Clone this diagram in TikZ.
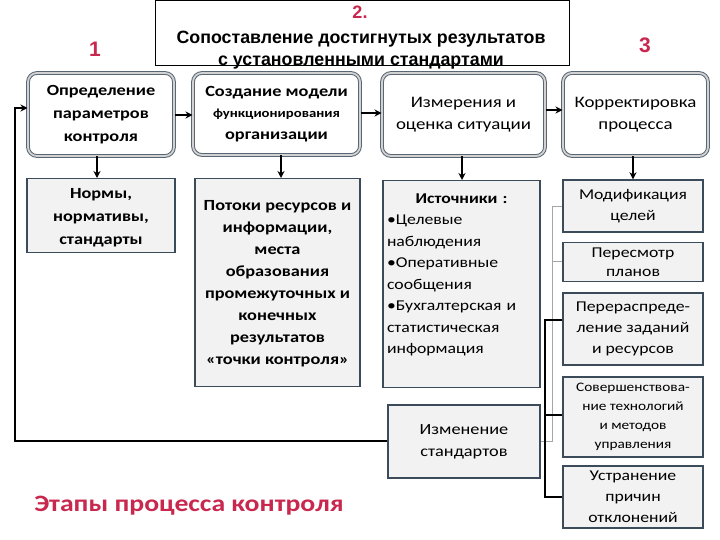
\documentclass[tikz,border=0pt]{standalone}
\usepackage{fontspec}
\setmainfont[FakeStretch=1.18]{Carlito}
\newfontfamily\arialf{Liberation Sans}
\usetikzlibrary{arrows.meta}
\definecolor{redc}{HTML}{C8284E}
\definecolor{bordc}{HTML}{3C4B5A}
\definecolor{fillc}{HTML}{F2F2F2}
\tikzset{
  topbox/.style={draw=bordc!85, rounded corners=9pt, line width=1pt, double=gray!35, double distance=1.8pt, fill=white, minimum width=#1, inner sep=0pt, align=center, font=\bfseries\fontsize{15.5}{23}\selectfont},
  gbox/.style={draw=bordc, line width=1.4pt, fill=fillc, inner sep=0pt, align=center},
  arr/.style={line width=1.6pt, -{Stealth[length=7pt,width=7pt]}},
  thick line/.style={line width=2.2pt},
  thin line/.style={line width=0.6pt, draw=gray!70},
}
\begin{document}
\begin{tikzpicture}[x=1pt,y=-1pt]
\useasboundingbox (0,0) rectangle (720,540);
% title
\node[draw=black, line width=0.8pt, fill=white, minimum width=414pt, minimum height=65pt, inner sep=0pt] (title) at (362,32.5) {};
\node[font=\arialf\bfseries\fontsize{18}{20}\selectfont, text=redc] (two) at (360,12) {2.};
\node[font=\arialf\bfseries\fontsize{17.8}{21.5}\selectfont, align=center] (titletxt) at (361,50) {Сопоставление достигнутых результатов\\с установленными стандартами};
\node[font=\arialf\bfseries\fontsize{21}{22}\selectfont, text=redc] (one) at (95,49) {1};
\node[font=\arialf\bfseries\fontsize{21}{22}\selectfont, text=redc] (three) at (645,45) {3};
% top row
\node[topbox=146pt, minimum height=83pt] (b1) at (101,114.5) {Определение\\параметров\\контроля};
\node[topbox=167pt, minimum height=82pt, font=\bfseries\fontsize{15.5}{21.5}\selectfont] (b2) at (276.5,114) {Создание модели\\{\fontsize{12.5}{21.5}\selectfont функционирования}\\организации};
\node[topbox=163pt, minimum height=83pt, font=\fontsize{16}{22}\selectfont] (b3) at (463.5,114.5) {Измерения и\\оценка ситуации};
\node[topbox=145pt, minimum height=83pt, font=\fontsize{16}{22}\selectfont] (b4) at (635.5,114.5) {Корректировка\\процесса};
% second row
\node[gbox, minimum width=148pt, minimum height=74pt, font=\bfseries\fontsize{15.5}{23}\selectfont, anchor=north] (n1) at (101,178) {\rule{0pt}{15pt}Нормы,\\нормативы,\\стандарты};
\node[gbox, minimum width=165pt, minimum height=208pt, font=\bfseries\fontsize{15.5}{22}\selectfont, anchor=north] (n2) at (277.5,178) {\rule{0pt}{30pt}Потоки ресурсов и\\информации,\\места\\образования\\промежуточных и\\конечных\\результатов\\«точки контроля»\rule[-21pt]{0pt}{21pt}};
\node[gbox, minimum width=157pt, minimum height=207pt, anchor=north, align=left, font=\fontsize{15}{21.5}\selectfont, text width=149pt] (n3) at (461.5,180) {\rule{0pt}{17pt}\makebox[\linewidth]{\textbf{Источники :}}\\•Целевые\\наблюдения\\•Оперативные\\сообщения\\•Бухгалтерская и\\статистическая\\информация\rule[-28pt]{0pt}{28pt}};
\node[gbox, minimum width=152pt, minimum height=73pt, font=\fontsize{15.5}{22}\selectfont] (n4) at (464,441.5) {Изменение\\стандартов};
% right column
\node[gbox, minimum width=140pt, minimum height=52pt, font=\fontsize{15}{21}\selectfont] (r1) at (633,206) {Модификация\\целей};
\node[gbox, minimum width=140pt, minimum height=39pt, font=\fontsize{15}{19}\selectfont] (r2) at (633,262) {Пересмотр\\планов};
\node[gbox, minimum width=140pt, minimum height=72pt, font=\fontsize{15}{21}\selectfont] (r3) at (633,329) {Перераспреде-\\ление заданий\\и ресурсов};
\node[gbox, minimum width=140pt, minimum height=80pt, font=\fontsize{13}{19}\selectfont] (r4) at (633,417) {Совершенствова-\\ние технологий\\и методов\\управления};
\node[gbox, minimum width=140pt, minimum height=62pt, font=\fontsize{15}{21}\selectfont] (r5) at (633,497) {Устранение\\причин\\отклонений};
% bottom caption
\node[font=\bfseries\fontsize{23.5}{25}\selectfont, text=redc] (cap) at (189,506) {Этапы процесса контроля};
% arrows top row
\draw[arr] (b1.east |- 0,115) -- (b2.west |- 0,115);
\draw[arr] (b2.east |- 0,113) -- (b3.west |- 0,113);
\draw[arr] (b3.east |- 0,110) -- (b4.west |- 0,110);
% down arrows
\draw[arr] (b1.south -| 97,0) -- (n1.north -| 97,0);
\draw[arr] (b2.south -| 281,0) -- (n2.north -| 281,0);
\draw[arr] (b3.south -| 462,0) -- (n3.north -| 462,0);
\draw[arr] (b4.south -| 633,0) -- (r1.north -| 633,0);
% thin bracket
\coordinate (tb) at (552,441);
\draw[thin line] (n4.east |- tb) -- (tb) -- (552,206) -- (r1.west |- 0,206);
\draw[thin line] (552,261) -- (r2.west |- 0,261);
% thick bracket
\coordinate (kt) at (545,320);
\coordinate (kb) at (545,497);
\draw[thick line] (r3.west |- kt) -- (kt) -- (kb) -- (r5.west |- kb);
\draw[thick line] (545,415) -- (r4.west |- 0,415);
% feedback loop
\coordinate (fl1) at (15,441);
\coordinate (fl2) at (15,108);
\draw[thick line, line width=2.4pt, -{Stealth[length=7pt,width=7pt]}] (n4.west |- fl1) -- (fl1) -- (fl2) -- (b1.west |- fl2);
\end{tikzpicture}
\end{document}
